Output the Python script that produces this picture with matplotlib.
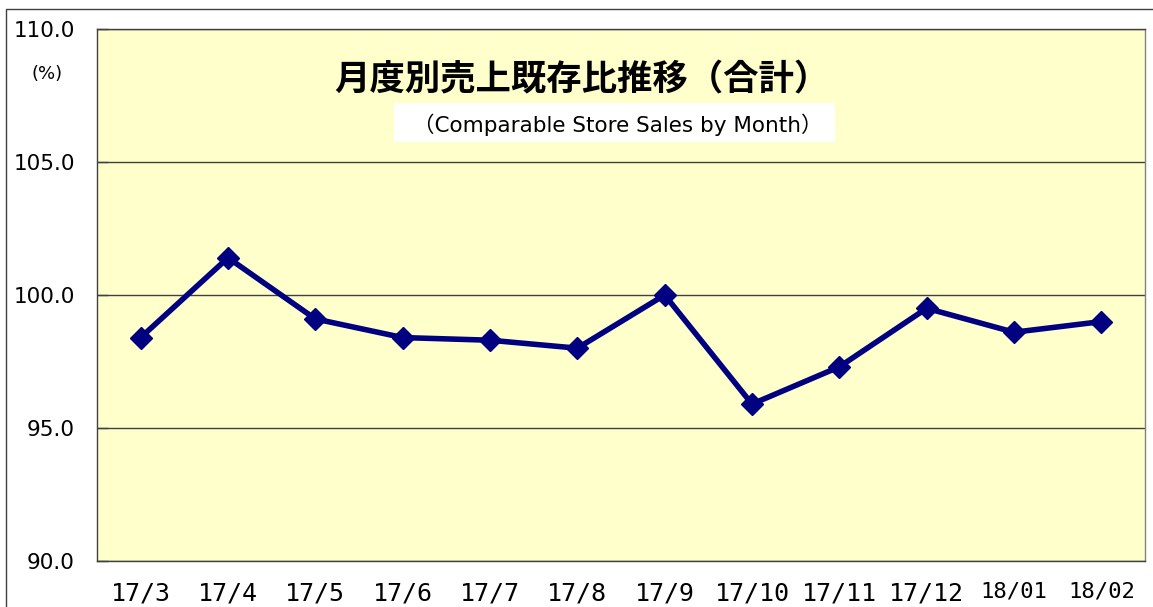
import matplotlib
matplotlib.use("Agg")
import matplotlib.pyplot as plt
from matplotlib.patches import Rectangle

plt.rcParams['font.family'] = ['DejaVu Sans', 'Noto Sans CJK JP']

months = ["17/3", "17/4", "17/5", "17/6", "17/7", "17/8", "17/9",
          "17/10", "17/11", "17/12", "18/01", "18/02"]
values = [98.4, 101.4, 99.1, 98.4, 98.3, 98.0, 100.0,
          95.9, 97.3, 99.5, 98.6, 99.0]
yticks = [90.0, 95.0, 100.0, 105.0, 110.0]
title = "月度別売上既存比推移（合計）"
subtitle = "（Comparable Store Sales by Month）"

W, H = 1153, 607
fig = plt.figure(figsize=(W / 100, H / 100), dpi=100)
fig.patch.set_facecolor("white")

# outer frame
fig.patches.append(Rectangle((6 / W, -0.01), 1, 1 - 9 / H + 0.01,
                             transform=fig.transFigure, fill=False,
                             edgecolor="#404040", linewidth=1.0))

ax = fig.add_axes([97 / W, 1 - 561 / H, (1145 - 97) / W, (561 - 29) / H])
ax.set_facecolor("#FFFFCC")

x = list(range(len(months)))
ax.plot(x, values, color="#000080", linewidth=4.0, marker="D",
        markersize=11, markerfacecolor="#000080", markeredgecolor="#000080",
        zorder=3)

ax.set_xlim(-0.5, len(months) - 0.5)
ax.set_ylim(90, 110)
ax.set_yticks(yticks)
ax.set_yticklabels([f"{v:.1f}" for v in yticks], fontsize=15.5)
ax.set_xticks(x)
ax.set_xticklabels(months)
for lbl in ax.get_xticklabels():
    lbl.set_family("DejaVu Sans Mono")
    if lbl.get_text().startswith("18"):
        lbl.set_fontsize(16)
    else:
        lbl.set_fontsize(18)
ax.tick_params(axis="x", length=0, pad=15)
ax.tick_params(axis="y", direction="in", length=8, width=1, pad=16,
               color="#404040")

ax.yaxis.grid(True, color="#404040", linewidth=1.0)
ax.set_axisbelow(True)
for s in ax.spines.values():
    s.set_color("#404040")
    s.set_linewidth(1.0)
ax.spines["right"].set_color("#808080")

fig.text(47 / W, 1 - 74 / H, "(%)", fontsize=13, ha="center", va="center")

fig.text(582 / W, 1 - 80 / H, title, fontsize=25.5, fontweight="bold",
         family=["Noto Sans CJK JP", "DejaVu Sans"],
         ha="center", va="center")
fig.patches.append(Rectangle((394 / W, 1 - 142 / H), (835 - 394) / W, 39 / H,
                             transform=fig.transFigure, facecolor="white",
                             edgecolor="none", zorder=5))
fig.text(618 / W, 1 - 125 / H, subtitle, fontsize=15.5, ha="center",
         va="center", zorder=6)

fig.savefig("out.png", dpi=100)
